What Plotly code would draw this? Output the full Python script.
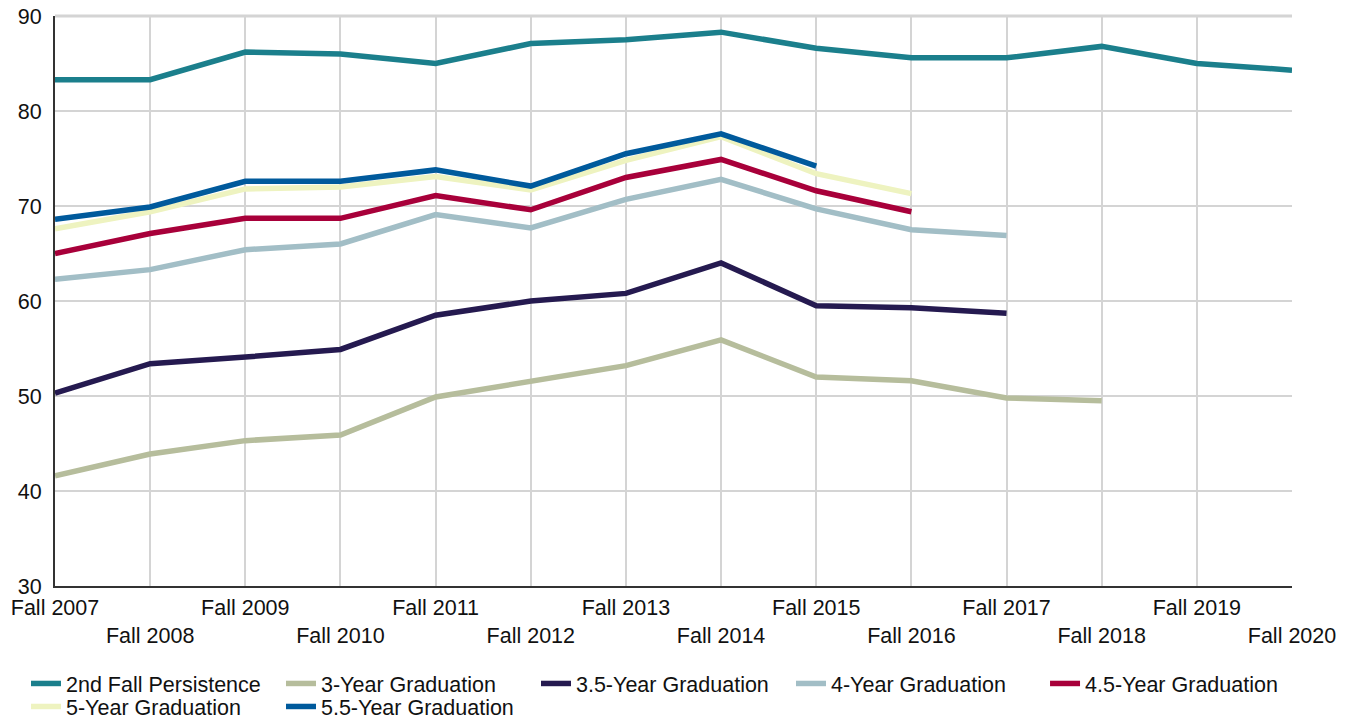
import plotly.graph_objects as go

categories = ["Fall 2007", "Fall 2008", "Fall 2009", "Fall 2010", "Fall 2011", "Fall 2012",
              "Fall 2013", "Fall 2014", "Fall 2015", "Fall 2016", "Fall 2017", "Fall 2018",
              "Fall 2019", "Fall 2020"]

persistence_2nd_fall = [83.3, 83.3, 86.2, 86.0, 85.0, 87.1, 87.5, 88.3, 86.6, 85.6, 85.6, 86.8, 85.0, 84.3]
grad_3yr = [41.6, 43.9, 45.3, 45.9, 49.9, 51.6, 53.2, 55.9, 52.0, 51.6, 49.8, 49.5]
grad_3_5yr = [50.3, 53.4, 54.1, 54.9, 58.5, 60.0, 60.8, 64.0, 59.5, 59.3, 58.7]
grad_4yr = [62.3, 63.3, 65.4, 66.0, 69.1, 67.7, 70.7, 72.8, 69.7, 67.5, 66.9]
grad_4_5yr = [65.0, 67.1, 68.7, 68.7, 71.1, 69.6, 73.0, 74.9, 71.6, 69.4]
grad_5yr = [67.6, 69.4, 71.8, 72.0, 73.1, 71.7, 74.8, 77.3, 73.4, 71.3]
grad_5_5yr = [68.6, 69.9, 72.6, 72.6, 73.8, 72.1, 75.5, 77.6, 74.2]

series = [
    ("2nd Fall Persistence", persistence_2nd_fall, "#1b7f8c", "legend"),
    ("3-Year Graduation", grad_3yr, "#b6bd9c", "legend"),
    ("3.5-Year Graduation", grad_3_5yr, "#251a50", "legend"),
    ("4-Year Graduation", grad_4yr, "#a2bec6", "legend"),
    ("4.5-Year Graduation", grad_4_5yr, "#a8003a", "legend3"),
    ("5-Year Graduation", grad_5yr, "#eef3c0", "legend2"),
    ("5.5-Year Graduation", grad_5_5yr, "#005a9c", "legend2"),
]

tick_text = [c if i % 2 == 0 else " <br>" + c for i, c in enumerate(categories)]

FONT = "Liberation Sans, Arial, sans-serif"
FS = 21.5
W, H = 1346, 719

fig = go.Figure()
for name, vals, color, leg in series:
    fig.add_trace(go.Scatter(
        x=categories[:len(vals)], y=vals, name=name, mode="lines",
        line=dict(color=color, width=5.5), legend=leg,
    ))

legend_common = dict(
    orientation="h", xref="container", yref="container",
    xanchor="left", yanchor="top",
    font=dict(family=FONT, size=FS, color="#111111"),
    entrywidth=210, entrywidthmode="pixels",
    traceorder="normal", itemwidth=30, bgcolor="rgba(0,0,0,0)",
)

fig.update_layout(
    width=W, height=H,
    margin=dict(l=55, r=54, t=16, b=133, autoexpand=False),
    paper_bgcolor="white", plot_bgcolor="white",
    font=dict(family=FONT, size=FS, color="#111111"),
    showlegend=True,
    legend=dict(legend_common, x=0.0193, y=0.0779),
    legend3=dict(legend_common, x=0.7764, y=0.0779),
    legend2=dict(legend_common, x=0.0193, y=0.0459),
    xaxis=dict(
        type="category", categoryorder="array", categoryarray=categories,
        range=[0, 13], automargin=False,
        tickmode="array", tickvals=categories, ticktext=tick_text,
        showgrid=True, gridcolor="#d4d4d4", gridwidth=1.5,
        showline=True, linecolor="#333333", linewidth=2,
        ticks="", tickfont=dict(size=FS, family=FONT),
        ticklabelstandoff=1, ticklabeloverflow="allow",
        mirror=False, zeroline=False,
    ),
    yaxis=dict(
        range=[30, 90], automargin=False,
        tickmode="array", tickvals=[30, 40, 50, 60, 70, 80, 90],
        showgrid=True, gridcolor="#d4d4d4", gridwidth=1.5,
        showline=True, linecolor="#333333", linewidth=2,
        ticks="", tickfont=dict(size=FS, family=FONT),
        ticklabelstandoff=7, ticklabeloverflow="allow", zeroline=False,
    ),
    shapes=[dict(type="line", xref="paper", yref="paper", x0=0, x1=1, y0=1, y1=1,
                 line=dict(color="#d4d4d4", width=3), layer="below")],
)

fig.write_html("out.html",
               config={"displayModeBar": False},
               post_script="document.body.style.margin='0';document.body.style.overflow='hidden';")
